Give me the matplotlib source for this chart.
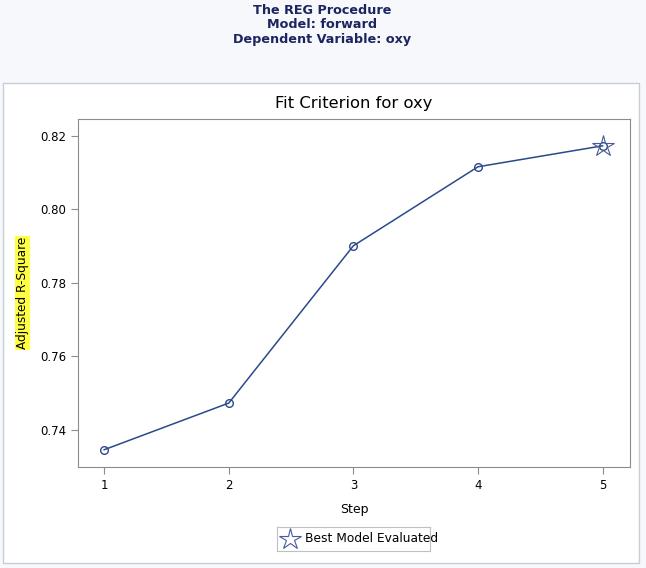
import matplotlib.pyplot as plt
from matplotlib.patches import Rectangle

# data
steps = [1, 2, 3, 4, 5]
adj_rsq = [0.7346, 0.7473, 0.7901, 0.8116, 0.8173]
best_step = 5
yticks = [0.74, 0.76, 0.78, 0.80, 0.82]

W, H = 646, 568
fig = plt.figure(figsize=(W / 100, H / 100), dpi=100)
fig.patch.set_facecolor('#f6f8fc')

# white graph panel, in a background axes so it stays behind the plot
bg = fig.add_axes([0, 0, 1, 1], zorder=-1)
bg.set_xlim(0, W)
bg.set_ylim(0, H)
bg.axis('off')
bg.add_patch(Rectangle((3, 5), 636, 480, facecolor='white', edgecolor='#c8ccd4', lw=1))

# header
hdr = dict(ha='center', va='center', fontsize=9.2, fontweight='bold', color='#1c2560',
           family='DejaVu Sans')
fig.text(322 / W, 1 - 10 / H, 'The REG Procedure', **hdr)
fig.text(322 / W, 1 - 25 / H, 'Model: forward', **hdr)
fig.text(322 / W, 1 - 40 / H, 'Dependent Variable: oxy', **hdr)

ax = fig.add_axes([78 / W, 1 - 467 / H, 552 / W, 348 / H])
line_c = '#2a4a8a'
ax.plot(steps, adj_rsq, color=line_c, lw=1.1, marker='o', ms=5.5, mfc='none', mec=line_c, mew=1)
ax.plot([best_step], [adj_rsq[steps.index(best_step)]], marker='*', ms=16, mfc='none',
        mec='#4a5a98', mew=0.8, ls='none')

ax.set_xlim(0.79, 5.22)
ax.set_ylim(0.7299, 0.8246)
ax.set_xticks(steps)
ax.set_yticks(yticks)
ax.set_yticklabels([f'{v:.2f}' for v in yticks])
for s in ax.spines.values():
    s.set_color('#8c8c8c')
ax.tick_params(colors='#8c8c8c', labelcolor='black', labelsize=8.5, length=5)
ax.set_title('Fit Criterion for oxy', fontsize=11.8, pad=8)
ax.set_xlabel('Step', fontsize=9, labelpad=8)
ax.set_ylabel('Adjusted R-Square', fontsize=8.7, labelpad=8,
              bbox=dict(facecolor='#ffff44', edgecolor='none', pad=0.5))

# legend
leg_ax = fig.add_axes([277 / W, 1 - 551 / H, 153 / W, 24 / H])
leg_ax.set_xlim(0, 153)
leg_ax.set_ylim(0, 24)
leg_ax.set_xticks([])
leg_ax.set_yticks([])
for s in leg_ax.spines.values():
    s.set_color('#c0c0c0')
leg_ax.plot([13], [12], marker='*', ms=16, mfc='none', mec='#4a5a98', mew=0.8)
leg_ax.text(28, 12, 'Best Model Evaluated', va='center', fontsize=8.8)

fig.savefig('out.png', dpi=100, facecolor=fig.get_facecolor())
